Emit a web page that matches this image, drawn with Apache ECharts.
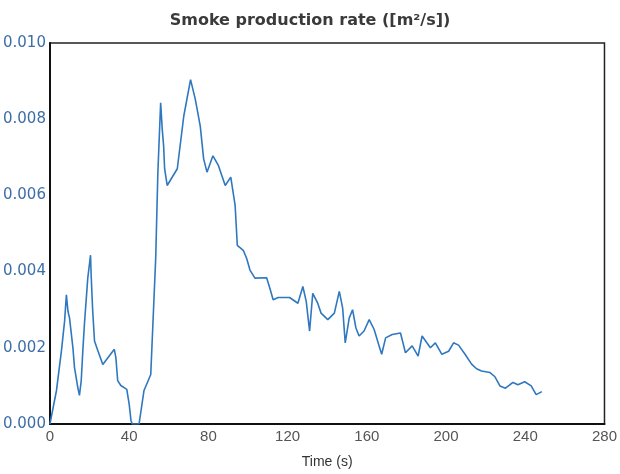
<!DOCTYPE html>
<html>
<head>
<meta charset="utf-8">
<title>Smoke production rate</title>
<script src="https://cdn.jsdelivr.net/npm/echarts@6/dist/echarts.min.js"></script>
<style>
  html, body { margin: 0; padding: 0; background: #fff; }
  #chart { width: 620px; height: 474px; }
</style>
</head>
<body>
<div id="chart"></div>
<script>
// time in seconds
const timeS = [
  0, 3.3, 5.8, 7.4, 8.3, 9.1, 9.9, 11.6, 12.4, 14.1, 14.9, 15.8, 16.6, 17.4, 19.1, 20.5,
  20.8, 21.6, 22.5, 24.2, 26.7, 32.5, 33.3, 34.2, 35.8, 38.8, 40, 40.9, 41.5, 45, 47.5,
  50.9, 53.4, 54.5, 55.9, 56.7, 57.4, 57.9, 59.2, 64.3, 67.6, 71, 73.4, 75.9, 77.6, 79.3,
  82.3, 85.1, 88.5, 91.3, 93.5, 94.6, 97.6, 99.3, 101, 103.5, 109.4, 111, 112.7, 115.2,
  121, 125.2, 127.7, 129.4, 131.1, 132.7, 135.2, 136.9, 140.3, 143.6, 146.1, 147.8,
  149.1, 151.1, 152.8, 154.5, 156.1, 158.6, 161.2, 163.7, 166.2, 167.5, 169.5, 172.8,
  177, 179.5, 182.9, 185.9, 187.9, 192.1, 194.6, 197.9, 201.3, 203.8, 206.3, 209.6,
  212.9, 215.4, 217.9, 222.2, 224.7, 227.2, 230, 232.2, 233.8, 236.3, 239.7, 243,
  245.5, 248.4
];

// smoke production rate in m²/s
const smokeRate = [
  0, 0.00088, 0.00192, 0.0027, 0.00339, 0.00296, 0.00278, 0.002, 0.00148, 0.00095,
  0.00075, 0.00114, 0.00192, 0.00261, 0.00383, 0.00443, 0.00391, 0.00296, 0.00218,
  0.00192, 0.00156, 0.00196, 0.00174, 0.00114, 0.00101, 0.00091, 0.00052, 0.0001, 0,
  0, 0.00088, 0.0013, 0.00435, 0.00661, 0.00843, 0.00774, 0.0073, 0.0067, 0.00626,
  0.0067, 0.00809, 0.00904, 0.00852, 0.00782, 0.00696, 0.00661, 0.00704, 0.00678,
  0.00626, 0.00648, 0.00574, 0.00469, 0.00456, 0.00435, 0.00404, 0.00383, 0.00384,
  0.00357, 0.00326, 0.00332, 0.00332, 0.00317, 0.00361, 0.00322, 0.00244, 0.00343,
  0.00317, 0.00291, 0.00274, 0.00291, 0.00348, 0.00304, 0.00213, 0.00278, 0.003,
  0.00252, 0.00231, 0.00244, 0.00274, 0.00248, 0.00205, 0.00183, 0.00226, 0.00235,
  0.00239, 0.00187, 0.00205, 0.00178, 0.00231, 0.002, 0.00213, 0.00183, 0.00191,
  0.00213, 0.00207, 0.00183, 0.00157, 0.00145, 0.00139, 0.00135, 0.00124, 0.001,
  0.00094, 0.00103, 0.00109, 0.00103, 0.00111, 0.001, 0.00077, 0.00085
];

const xTicks = { min: 0, max: 280, interval: 40 };
const yTicks = { min: 0, max: 0.01, interval: 0.002 };

const chart = echarts.init(document.getElementById('chart'));

const option = {
  animation: false,
  title: {
    text: 'Smoke production rate ([m²/s])',
    left: 'center',
    top: 8,
    textStyle: {
      fontFamily: 'DejaVu Sans',
      fontSize: 16,
      fontWeight: 'bold',
      color: '#3a3a3a'
    }
  },
  grid: {
    left: 48,
    right: 13,
    top: 43,
    bottom: 47,
    show: true,
    borderColor: '#222',
    borderWidth: 1.5,
    backgroundColor: '#fff'
  },
  xAxis: {
    type: 'value',
    min: xTicks.min,
    max: xTicks.max,
    interval: xTicks.interval,
    name: 'Time (s)',
    nameLocation: 'middle',
    nameGap: 31,
    nameTextStyle: {
      fontFamily: 'Liberation Sans',
      fontSize: 14,
      color: '#333'
    },
    axisLine: { lineStyle: { color: '#111', width: 2 } },
    axisTick: { show: false },
    splitLine: { show: false },
    axisLabel: {
      fontFamily: 'Liberation Sans',
      fontSize: 15,
      color: '#555',
      margin: 5
    }
  },
  yAxis: {
    type: 'value',
    min: yTicks.min,
    max: yTicks.max,
    interval: yTicks.interval,
    axisLine: { show: true, lineStyle: { color: '#111', width: 2 } },
    axisTick: { show: false },
    splitLine: { show: false },
    axisLabel: {
      fontFamily: 'DejaVu Sans',
      fontSize: 15,
      color: '#3d6ea8',
      margin: 4,
      formatter: (v) => v.toFixed(3)
    }
  },
  series: [{
    type: 'line',
    data: timeS.map((t, i) => [t, smokeRate[i]]),
    showSymbol: false,
    lineStyle: {
      color: '#2f78c0',
      width: 1.6
    }
  }]
};

chart.setOption(option);
</script>
</body>
</html>
